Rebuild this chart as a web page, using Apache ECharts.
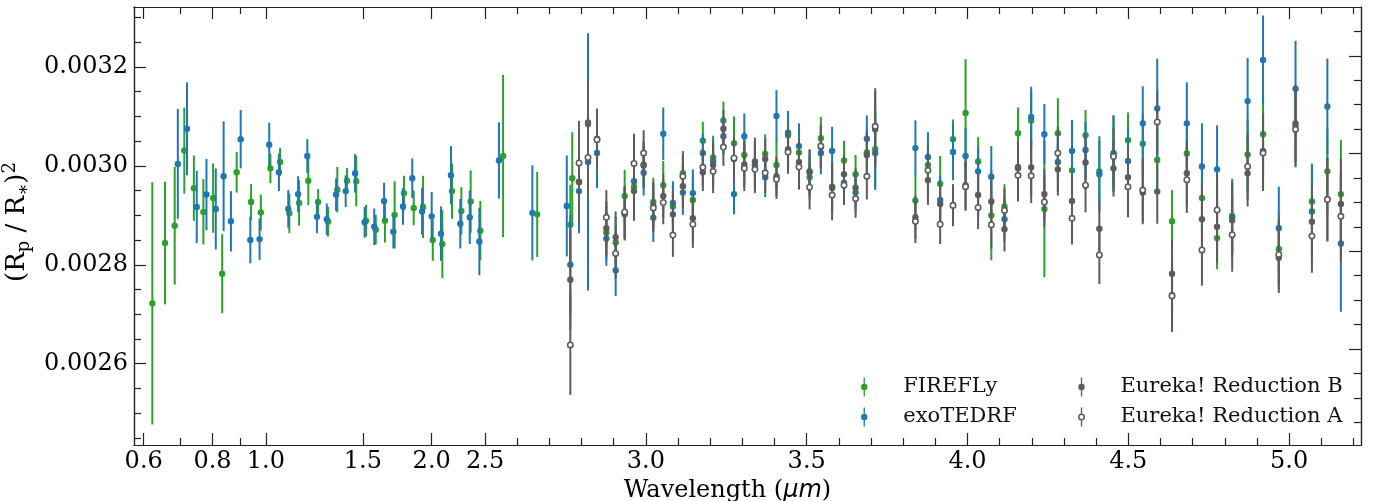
<!DOCTYPE html>
<html>
<head>
<meta charset="utf-8">
<title>Transmission spectrum</title>
<script src="https://cdn.jsdelivr.net/npm/echarts@6/dist/echarts.min.js"></script>
<style>
  html, body { margin: 0; padding: 0; background: #fff; }
  #chart { width: 1374px; height: 501px; }
</style>
</head>
<body>
<div id="chart"></div>
<script>
// --- data (depths in ppm) ---
var sossFireflyWl = [0.622,0.656,0.683,0.711,0.740,0.770,0.802,0.833,0.885,0.940,0.979,1.019,1.061,1.103,1.149,1.194,1.244,1.297,1.348,1.404,1.459,1.520,1.583,1.645,1.713,1.781,1.855,1.929,2.009,2.091,2.177,2.264,2.354,2.451,2.556,2.662,2.771];
var sossFireflyD = [2722,2844,2879,3031,2955,2907,2935,2782,2987,2927,2906,2995,3008,2904,2925,2970,2927,2887,2952,2970,2969,2889,2871,2889,2901,2945,2915,2917,2850,2842,2949,2909,2928,2869,3020,2902,2975];
var sossFireflyE = [245,124,119,87,66,66,70,80,41,36,36,30,28,40,46,49,26,30,46,26,51,32,30,44,68,35,35,63,42,69,56,48,63,60,164,86,93];

var sossExoWl = [0.692,0.719,0.749,0.780,0.811,0.838,0.864,0.900,0.937,0.974,1.014,1.056,1.098,1.144,1.189,1.238,1.290,1.341,1.396,1.452,1.511,1.573,1.639,1.704,1.774,1.844,1.921,2.000,2.079,2.168,2.254,2.345,2.441,2.543,2.647,2.754];
var sossExoD = [3004,3075,2917,2942,2913,2979,2888,3054,2850,2852,3043,2987,2913,2943,3020,2897,2892,2942,2949,2985,2886,2877,2929,2867,2918,2975,2908,2898,2863,2981,2883,2896,2847,3011,2905,2919];
var sossExoE = [111,94,73,72,82,111,61,59,47,42,44,38,38,36,34,33,32,33,32,39,31,37,37,34,37,40,47,49,55,59,50,54,68,77,96,102];

var nrsWl = [2.765,2.792,2.820,2.848,2.877,2.906,2.934,2.963,2.993,3.023,3.054,3.084,3.115,3.146,3.177,3.209,3.241,3.274,3.306,3.339,3.371,3.406,3.442,3.476,3.509,3.544,3.579,3.616,3.652,3.687,3.713,
  3.838,3.877,3.915,3.955,3.994,4.033,4.074,4.115,4.157,4.198,4.239,4.281,4.325,4.367,4.410,4.454,4.499,4.545,4.590,4.636,4.682,4.729,4.776,4.823,4.871,4.919,4.968,5.020,5.071,5.119,5.161];

var nrsFireflyD = [2881,2967,3084,3054,2865,2845,2939,2958,3003,2927,2961,2918,2985,2931,3051,3017,3092,3046,3022,3003,3024,3002,3062,3027,2977,3056,2958,3011,2983,3027,3034,
  2930,3002,2964,3054,3107,3009,2900,2918,3066,3092,2913,3066,2991,3062,2989,3026,3052,3045,3012,2888,3025,2935,2854,2899,3023,3064,2832,3081,2928,2989,2943];
var nrsFireflyE = [81,85,91,61,55,52,53,60,46,49,49,44,45,48,38,44,38,54,46,48,40,49,44,46,45,43,51,40,39,47,77,
  51,50,56,40,109,49,91,45,52,57,138,71,57,51,61,77,56,61,67,63,67,71,63,75,71,77,73,81,77,85,109];

var nrsExoD = [2800,2949,3008,3026,2853,2789,2902,2969,2986,2895,3065,2925,2946,2945,3026,3010,3060,2943,3060,3001,2977,3101,3067,3040,2989,3026,3030,2966,2946,3055,3026,
  3036,3018,2931,3028,3020,2989,2978,2892,2995,3099,3064,3008,3030,3032,2983,3024,3010,3086,3116,2739,3086,2999,2993,2896,3131,3214,2874,3156,2908,3120,2843];
var nrsExoE = [101,85,260,71,55,52,53,60,46,49,53,44,45,48,38,44,38,41,46,48,40,52,44,46,45,43,49,40,39,47,75,
  56,50,49,57,57,49,62,45,53,61,61,61,63,57,77,77,71,75,101,75,83,87,89,75,87,90,84,97,93,97,138];

var eurekaBD = [2770,2968,3088,3055,2874,2856,2904,2949,3001,2919,2939,2902,2959,2894,2987,3002,3075,3014,3003,3009,3014,2979,3034,3008,2987,3038,2956,2983,2956,3022,3074,
  2896,2971,2923,2921,2961,2941,2928,2872,2998,2997,2943,2993,2929,3007,2873,2995,2977,2946,2948,2782,2985,2892,2877,2890,2985,3030,2814,3086,2887,2933,2923];
var eurekaAD = [2638,3006,3017,3053,2896,2823,2907,3005,3026,2915,2926,2860,2979,2882,2997,2989,3038,3016,2995,2993,2986,2973,3028,2998,2957,3040,2941,2961,2934,2979,3080,
  2888,2991,2882,2920,2958,2916,2881,2910,2981,2980,2927,3026,2894,2961,2820,3019,2958,2951,3089,2737,2972,2830,2911,2861,2999,3026,2821,3074,2858,2932,2898];
var eurekaE = [101,85,81,61,55,52,53,60,46,49,44,44,45,48,38,44,38,44,46,48,40,40,44,46,45,43,51,40,39,47,77,
  44,50,40,42,49,44,49,45,53,55,51,53,53,55,59,57,62,64,65,69,67,72,73,75,67,77,71,77,74,85,91];

// tick labels
var xMajor = [0.6, 0.8, 1.0, 1.5, 2.0, 2.5, 3.0, 3.5, 4.0, 4.5, 5.0];
var xMinor = [0.7, 0.9, 2.6, 2.7, 2.8, 2.9, 3.1, 3.2, 3.3, 3.4, 3.6, 3.7, 3.8, 3.9, 4.1, 4.2, 4.3, 4.4, 4.6, 4.7, 4.8, 4.9, 5.1, 5.2];
var yMajor = [2600, 2800, 3000, 3200];
var yMinor = [2450, 2500, 2550, 2650, 2700, 2750, 2850, 2900, 2950, 3050, 3100, 3150, 3250, 3300];
var rMajor = [0, 1, 2, 3];
var rMinor = [-0.75, -0.5, -0.25, 0.25, 0.5, 0.75, 1.25, 1.5, 1.75, 2.25, 2.5, 2.75, 3.25];

// wavelength axis: log up to 2.5 um, linear after
function wlPos(w) {
  if (w <= 2.5) return 9.7 + 239.2 * Math.log(w / 0.6);
  return 351.1 + 321.6 * (w - 2.5);
}

function pack(wl, d, e) {
  return wl.map(function (w, i) { return [wlPos(w), d[i], e[i]]; });
}

var green = '#2ca02c', blue = '#1f77b4', grey = '#5c5c5c';
var serif = 'DejaVu Serif';

function errorBars(color, fill) {
  return function (params, api) {
    var x = api.value(0), y = api.value(1), e = api.value(2);
    var c = api.coord([x, y]);
    var t = api.coord([x, y + e]);
    var b = api.coord([x, y - e]);
    var open = fill !== color;
    return {
      type: 'group',
      children: [
        { type: 'line', shape: { x1: c[0], y1: t[1], x2: c[0], y2: b[1] }, style: { stroke: color, lineWidth: 2 } },
        { type: 'circle', shape: { cx: c[0], cy: c[1], r: open ? 2.7 : 3.2 },
          style: { fill: fill, stroke: color, lineWidth: open ? 1.6 : 0 } }
      ]
    };
  };
}

var iconFilled = 'path://M3.3,0H4.7V20H3.3Z M4,6.6A3.4,3.4 0 1 1 4,13.4A3.4,3.4 0 1 1 4,6.6Z';
var iconOpen = 'path://M3.3,0H4.7V6.7H3.3Z M3.3,13.3H4.7V20H3.3Z M4,6.3A3.7,3.7 0 1 1 4,13.7A3.7,3.7 0 1 1 4,6.3Z M4,7.9A2.1,2.1 0 1 0 4,12.1A2.1,2.1 0 1 0 4,7.9Z';

var XMAX = 1227;
var YMIN = 2435.6, YMAX = 3321.3;
var RMIN = -0.983, RMAX = 3.5;

var lineStyle = { color: '#222', width: 1.2 };

function xAxisDef(pos, ticks, len, labels) {
  return {
    type: 'value', min: 0, max: XMAX, position: pos,
    axisLine: { show: true, onZero: false, lineStyle: lineStyle },
    axisTick: { show: true, inside: true, length: len, customValues: ticks.map(wlPos), lineStyle: { color: '#222', width: 1.2 } },
    axisLabel: labels ? {
      customValues: xMajor.map(wlPos), fontSize: 24, fontFamily: serif, color: '#000', margin: 5,
      formatter: function (v) {
        for (var i = 0; i < xMajor.length; i++) {
          if (Math.abs(wlPos(xMajor[i]) - v) < 0.5) return xMajor[i].toFixed(1);
        }
        return '';
      }
    } : { show: false },
    splitLine: { show: false }
  };
}

function yAxisDef(pos, min, max, ticks, len, labels) {
  return {
    type: 'value', min: min, max: max, position: pos,
    axisLine: { show: true, onZero: false, lineStyle: lineStyle },
    axisTick: { show: true, inside: true, length: len, customValues: ticks, lineStyle: { color: '#222', width: 1.2 } },
    axisLabel: labels ? {
      customValues: yMajor, fontSize: 24, fontFamily: serif, color: '#000', margin: 6,
      formatter: function (v) { return (v / 1e6).toFixed(4); }
    } : { show: false },
    splitLine: { show: false }
  };
}

var xBottom = xAxisDef('bottom', xMajor, 12, true);
xBottom.name = 'Wavelength ({i|μm})';
xBottom.nameLocation = 'middle';
xBottom.nameGap = 30;
xBottom.nameTextStyle = {
  fontSize: 24, fontFamily: serif, color: '#000', padding: [0, 40, 0, 0],
  rich: { i: { fontSize: 24, fontFamily: 'DejaVu Sans', fontStyle: 'italic', color: '#000' } }
};

var yLeft = yAxisDef('left', YMIN, YMAX, yMajor, 12, true);
yLeft.name = '(R{s|p} / R{s|∗}){p|2}';
yLeft.nameLocation = 'middle';
yLeft.nameRotate = 90;
yLeft.nameGap = 86;
yLeft.nameTextStyle = {
  fontSize: 26, fontFamily: serif, color: '#000', lineHeight: 32, padding: [0, 0, 0, 8],
  rich: {
    s: { fontSize: 18, fontFamily: serif, color: '#000', verticalAlign: 'bottom', lineHeight: 27 },
    p: { fontSize: 18, fontFamily: serif, color: '#000', verticalAlign: 'top', lineHeight: 32 }
  }
};

var myChart = echarts.init(document.getElementById('chart'), null, { renderer: 'canvas' });

var option = {
  animation: false,
  backgroundColor: '#fff',
  grid: { left: 134, right: 13, top: 7, bottom: 56, containLabel: false, outerBoundsMode: 'none' },
  xAxis: [
    xBottom,
    xAxisDef('bottom', xMinor, 7, false),
    xAxisDef('top', xMajor, 12, false),
    xAxisDef('top', xMinor, 7, false)
  ],
  yAxis: [
    yLeft,
    yAxisDef('left', YMIN, YMAX, yMinor, 7, false),
    yAxisDef('right', RMIN, RMAX, rMajor, 12, false),
    yAxisDef('right', RMIN, RMAX, rMinor, 7, false)
  ],
  legend: [
    {
      data: [{ name: 'FIREFLy', icon: iconFilled }, { name: 'exoTEDRF', icon: iconFilled }],
      orient: 'vertical', left: 856, top: 370, itemWidth: 30, itemHeight: 19, itemGap: 6,
      textStyle: { fontSize: 21, fontFamily: serif, color: '#111', lineHeight: 24, padding: [0, 0, 0, 19] },
      selectedMode: false
    },
    {
      data: [{ name: 'Eureka! Reduction B', icon: iconFilled }, { name: 'Eureka! Reduction A', icon: iconOpen }],
      orient: 'vertical', left: 1073, top: 370, itemWidth: 30, itemHeight: 19, itemGap: 6,
      textStyle: { fontSize: 21, fontFamily: serif, color: '#111', lineHeight: 24, padding: [0, 0, 0, 19] },
      selectedMode: false
    }
  ],
  series: [
    {
      name: 'FIREFLy', type: 'custom', clip: true, z: 2,
      itemStyle: { color: green },
      renderItem: errorBars(green, green),
      encode: { x: 0, y: 1 },
      data: pack(sossFireflyWl, sossFireflyD, sossFireflyE).concat(pack(nrsWl, nrsFireflyD, nrsFireflyE))
    },
    {
      name: 'exoTEDRF', type: 'custom', clip: true, z: 3,
      itemStyle: { color: blue },
      renderItem: errorBars(blue, blue),
      encode: { x: 0, y: 1 },
      data: pack(sossExoWl, sossExoD, sossExoE).concat(pack(nrsWl, nrsExoD, nrsExoE))
    },
    {
      name: 'Eureka! Reduction B', type: 'custom', clip: true, z: 4,
      itemStyle: { color: grey },
      renderItem: errorBars(grey, grey),
      encode: { x: 0, y: 1 },
      data: pack(nrsWl, eurekaBD, eurekaE)
    },
    {
      name: 'Eureka! Reduction A', type: 'custom', clip: true, z: 5,
      itemStyle: { color: grey },
      renderItem: errorBars(grey, '#ffffff'),
      encode: { x: 0, y: 1 },
      data: pack(nrsWl, eurekaAD, eurekaE)
    }
  ]
};

myChart.setOption(option);
window.addEventListener('resize', function () {
  myChart.resize();
});
</script>
</body>
</html>
